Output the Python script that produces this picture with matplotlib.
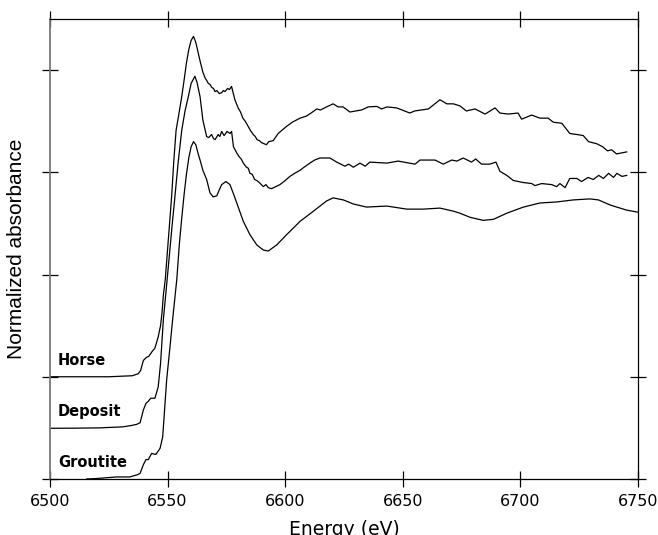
"""XANES spectra (Mn K-edge) for three samples, stacked with offsets."""
import matplotlib
matplotlib.use("Agg")
import matplotlib.pyplot as plt

# energy (eV) / normalized absorbance (offset included)
horse_e = [6500, 6510, 6520, 6525, 6530, 6535, 6537.5, 6538.5, 6539.7, 6541, 6542,
           6543.5, 6544.6, 6546, 6547, 6547.6, 6548.2, 6549, 6550, 6551, 6551.7,
           6552.6, 6553.6, 6555, 6556, 6557, 6558, 6559, 6560, 6561, 6562, 6563,
           6564, 6565, 6566, 6566.6, 6567.3, 6568, 6568.8, 6569.5, 6570.2, 6570.9,
           6572, 6573, 6573.7, 6574.4, 6575.5, 6576.3, 6577.2, 6578.6, 6580, 6581,
           6582, 6583, 6584, 6585.2, 6586.4, 6587.3, 6588, 6589, 6590, 6591, 6592,
           6593, 6594.9, 6597, 6600.6, 6603, 6606.3, 6609, 6611, 6613.4, 6615,
           6617.6, 6620.4, 6622.5, 6624.6, 6627.5, 6632.5, 6635.3, 6638.9, 6641,
           6643.3, 6647.4, 6653, 6655, 6660.9, 6665.8, 6668.7, 6671.5, 6674.3,
           6677, 6680.7, 6685, 6689.2, 6691.3, 6694.8, 6699, 6700.5, 6704.8,
           6708.3, 6711.8, 6714, 6717.6, 6721, 6724, 6726.7, 6729, 6732.4, 6735,
           6737, 6738.8, 6740.9, 6745.2]
horse_mu = [1.00, 1.00, 1.00, 1.00, 1.005, 1.01, 1.03, 1.06, 1.16, 1.19, 1.20,
            1.25, 1.28, 1.39, 1.50, 1.62, 1.80, 1.95, 2.25, 2.55, 2.76,
            3.10, 3.41, 3.60, 3.74, 3.90, 4.07, 4.20, 4.29, 4.33, 4.27, 4.17,
            4.07, 3.98, 3.92, 3.90, 3.87, 3.86, 3.83, 3.82, 3.79, 3.80,
            3.77, 3.78, 3.80, 3.79, 3.82, 3.81, 3.84, 3.71, 3.63, 3.59,
            3.53, 3.50, 3.46, 3.41, 3.37, 3.35, 3.32, 3.31, 3.29, 3.28, 3.27,
            3.30, 3.31, 3.38, 3.45, 3.49, 3.53, 3.55, 3.58, 3.62, 3.61,
            3.64, 3.67, 3.64, 3.64, 3.59, 3.61, 3.64, 3.645, 3.62,
            3.64, 3.63, 3.58, 3.60, 3.62, 3.71, 3.67, 3.67, 3.65,
            3.60, 3.62, 3.57, 3.63, 3.58, 3.57, 3.58, 3.52, 3.56,
            3.53, 3.53, 3.49, 3.48, 3.38, 3.37, 3.36, 3.30, 3.28, 3.25,
            3.21, 3.22, 3.18, 3.20]

deposit_e = [6500, 6510, 6521, 6531, 6535, 6536.9, 6538.3, 6539.7, 6540.8, 6541.8,
             6542.8, 6544.6, 6546, 6547, 6548.2, 6549.8, 6551, 6552, 6553.1,
             6554.5, 6556, 6557.4, 6558.8, 6560, 6561.6, 6562.5, 6563.8, 6565,
             6566.6, 6567.5, 6568.7, 6569.5, 6570.2, 6571.5, 6572.2, 6573, 6574,
             6574.4, 6575.2, 6576.5, 6577.2, 6578, 6579.4, 6580.5, 6581.3, 6582.2,
             6583.5, 6584.3, 6585, 6586, 6587, 6587.9, 6589, 6590.7, 6591.8,
             6592.8, 6594.2, 6596, 6597.8, 6600, 6602, 6604, 6606.3, 6608,
             6610.5, 6612.5, 6614.8, 6619, 6621.9, 6625.4, 6627, 6629, 6631.8,
             6634, 6636, 6643.2, 6648, 6655.2, 6657.3, 6663.7, 6667.2, 6670.8,
             6673, 6675.7, 6679.2, 6681, 6683.5, 6687, 6689.6, 6691.3, 6694.2,
             6697, 6701.3, 6704.8, 6706.2, 6709, 6713.3, 6715.4, 6716.8, 6719,
             6721, 6724, 6726, 6728.8, 6731, 6733.3, 6735.3, 6737.5, 6739.6,
             6741, 6743.2, 6745.2]
deposit_mu = [0.496, 0.497, 0.50, 0.51, 0.525, 0.535, 0.55, 0.675, 0.74, 0.76,
              0.79, 0.79, 0.90, 1.13, 1.56, 1.95, 2.25, 2.50, 2.76,
              3.10, 3.41, 3.60, 3.74, 3.87, 3.94, 3.88, 3.74, 3.51,
              3.35, 3.34, 3.37, 3.33, 3.32, 3.37, 3.35, 3.40, 3.36,
              3.37, 3.40, 3.38, 3.40, 3.25, 3.19, 3.15, 3.13, 3.09,
              3.05, 3.04, 2.99, 2.98, 2.93, 2.92, 2.90, 2.86, 2.88,
              2.85, 2.84, 2.86, 2.88, 2.92, 2.96, 2.99, 3.02, 3.05,
              3.09, 3.12, 3.14, 3.14, 3.10, 3.06, 3.08, 3.05, 3.09,
              3.06, 3.10, 3.09, 3.11, 3.08, 3.12, 3.12, 3.08, 3.12,
              3.11, 3.14, 3.10, 3.13, 3.08, 3.08, 3.10, 3.01, 2.97,
              2.92, 2.90, 2.89, 2.87, 2.89, 2.88, 2.86, 2.89, 2.85,
              2.94, 2.94, 2.91, 2.95, 2.93, 2.97, 2.94, 2.99, 2.95,
              2.99, 2.96, 2.97]

groutite_e = [6515.6, 6520, 6528.3, 6534, 6535.4, 6537, 6538.3, 6539.7, 6540.8,
              6541.8, 6543.2, 6545, 6546.8, 6547.9, 6548.6, 6549.6, 6551, 6552.4,
              6553.9, 6555, 6556, 6557, 6558, 6559, 6560, 6561, 6562, 6563,
              6563.8, 6565, 6566.6, 6568, 6569.4, 6570.9, 6572, 6573, 6574.8,
              6576.5, 6578, 6579.4, 6582.2, 6585, 6587.9, 6590.7, 6592.8, 6596.4,
              6600.6, 6606.3, 6612, 6617.6, 6620.4, 6624.7, 6629, 6634.6, 6643.2,
              6651.7, 6658.7, 6665.8, 6671.5, 6674.3, 6678.6, 6684.2, 6688.5,
              6694.2, 6701.3, 6708.3, 6715.4, 6722.5, 6729.6, 6733.2, 6738.2,
              6745.2, 6750]
groutite_mu = [0.0, 0.005, 0.02, 0.02, 0.03, 0.04, 0.055, 0.14, 0.19,
               0.19, 0.25, 0.24, 0.30, 0.41, 0.64, 0.97, 1.29, 1.62,
               1.95, 2.30, 2.55, 2.78, 2.98, 3.14, 3.25, 3.30, 3.27, 3.18,
               3.12, 3.02, 2.93, 2.80, 2.76, 2.77, 2.83, 2.88, 2.91,
               2.88, 2.79, 2.70, 2.52, 2.39, 2.29, 2.24, 2.23, 2.29,
               2.39, 2.52, 2.62, 2.72, 2.75, 2.73, 2.69, 2.66, 2.67,
               2.64, 2.64, 2.65, 2.62, 2.60, 2.56, 2.53, 2.54,
               2.60, 2.66, 2.70, 2.71, 2.73, 2.74, 2.73, 2.68,
               2.63, 2.61]

sample_names = ["Horse", "Deposit", "Groutite"]
name_y = [1.155, 0.656, 0.157]

x_ticks = [6500, 6550, 6600, 6650, 6700, 6750]
y_ticks = [0, 1, 2, 3, 4]

fig = plt.figure(figsize=(6.58, 5.35), dpi=100)
ax = fig.add_axes([0.076, 0.1047, 0.8936, 0.8598])

for e, mu in [(horse_e, horse_mu), (deposit_e, deposit_mu), (groutite_e, groutite_mu)]:
    ax.plot(e, mu, color="black", lw=0.9)

for name, y in zip(sample_names, name_y):
    ax.text(6503.4, y, name, fontsize=10.5, fontweight="bold", va="center", ha="left")

ax.set_xlim(6500, 6750)
ax.set_ylim(0, 4.5)
ax.set_xticks(x_ticks)
ax.set_yticks(y_ticks)
ax.set_yticklabels([])
ax.tick_params(direction="inout", length=11, width=0.9, top=True, right=True,
               labelsize=11.5, pad=5, color="black")
ax.tick_params(axis="x", labeltop=False)
for side in ["top", "right", "bottom"]:
    ax.spines[side].set_linewidth(0.9)
ax.spines["left"].set_color("#777777")
ax.spines["left"].set_linewidth(1.3)

ax.set_xlabel("Energy (eV)", fontsize=13.5, labelpad=8)
ax.set_ylabel("Normalized absorbance", fontsize=15, family="Liberation Sans", labelpad=7)

fig.savefig("out.png", dpi=100)
